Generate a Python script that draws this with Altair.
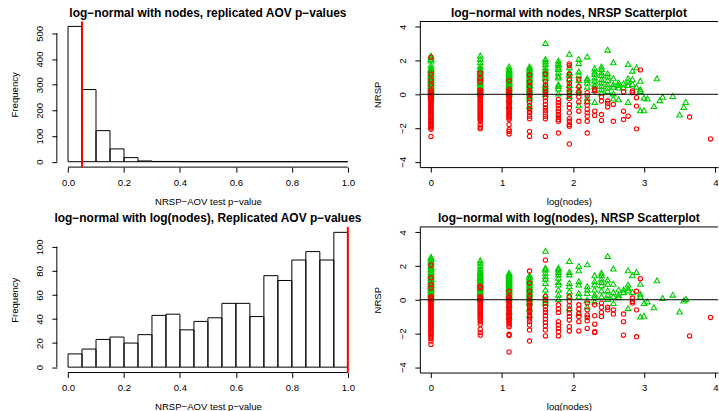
import altair as alt
import pandas as pd

FONT = "Liberation Sans"
GREEN = "#00CD00"
RED = "#FF0000"

# ---------------- histogram data ----------------
bin_edges = [0.0, 0.05, 0.1, 0.15, 0.2, 0.25, 0.3, 0.35, 0.4, 0.45, 0.5,
             0.55, 0.6, 0.65, 0.7, 0.75, 0.8, 0.85, 0.9, 0.95, 1.0]
top_counts = [527, 281, 121, 50, 16, 3, 1, 1, 0, 0, 0, 0, 0, 0, 0, 0, 0, 0, 0, 0]
bottom_counts = [11, 15, 23, 25, 20, 27, 43, 44, 31, 38, 41, 53, 53, 42, 76, 72, 89, 96, 89, 112]
hist_xticks = [0.0, 0.2, 0.4, 0.6, 0.8, 1.0]
top_yticks = [0, 100, 200, 300, 400, 500]
bottom_yticks = [0, 20, 40, 60, 80, 100]
top_cut = 0.05
bottom_cut = 1.0

# ---------------- scatter data (nodes -> NRSP values) ----------------
top_green = {
    1: [2.3, 2.2, 2.1, 2.0, 1.75, 1.6, 1.5, 1.45, 1.38, 1.3, 1.25, 1.18, 1.1, 1.05, 0.98, 0.9, 0.85,
        0.78, 0.7, 0.65, 0.58, 0.5, 0.45, 0.38, 0.3, 0.25, 0.18, 0.1, 0.05, -0.05, -0.2],
    2: [2.3, 2.1, 1.9, 1.7, 1.55, 1.48, 1.4, 1.32, 1.25, 1.18, 1.1, 1.02, 0.95, 0.88, 0.8, 0.72,
        0.65, 0.58, 0.5, 0.42, 0.35, 0.28, 0.2, 0.12, 0.05],
    3: [1.65, 1.5, 1.42, 1.35, 1.27, 1.2, 1.12, 1.05, 0.97, 0.9, 0.82, 0.75, 0.67, 0.6, 0.52, 0.45,
        0.37, 0.3, 0.22, 0.15, 0.07, 0.0, -0.3, -0.7],
    4: [1.65, 1.55, 1.45, 1.35, 1.25, 1.15, 1.05, 0.95, 0.85, 0.75, 0.65, 0.55, 0.45, 0.35, 0.25,
        0.15, 0.05, -0.1, -0.25, -0.7],
    5: [3.05, 2.1, 1.95, 1.8, 1.6, 1.45, 1.35, 1.2, 1.05, 0.95, 0.6, 0.45, 0.3, 0.0],
    6: [2.0, 1.85, 1.75, 1.6, 1.5, 1.3, 1.1, 1.0, 0.6, 0.5, 0.35, 0.05],
    7: [2.4, 1.6, 1.3, 1.15, 0.95, 0.55, 0.35, 0.1, -0.1],
    8: [2.1, 1.85, 1.35, 1.15, 0.85, 0.55, 0.25, 0.1, -0.65],
    9: [2.25, 0.95, 0.85, 0.7, 0.45, -0.2, -0.4],
    10: [1.55, 1.35, 1.2, 1.0, 0.8, 0.6, 0.5, 0.25, -0.45],
    11: [1.65, 1.5, 1.3, 1.15, 0.9, 0.7, 0.5, 0.3, 0.1],
    12: [2.65, 1.25, 1.05, 0.85, 0.6, 0.4, 0.2],
    13: [1.9, 0.95, 0.6, 0.45, 0.05, -0.25],
    14: [0.7, 0.55, 0.4, -0.3],
    15: [0.65, 0.4],
    16: [1.8, 0.95, 0.75, 0.55, -0.45],
    17: [1.4, 0.9, 0.6],
    18: [1.6, 0.45],
    19: [0.8, 0.3, 0.2, -0.95],
    20: [-0.2, -0.95],
    21: [-0.25],
    23: [-0.7],
    24: [0.95],
    25: [-0.35],
    26: [-0.15],
    30: [-0.1],
    33: [-1.2],
    35: [-0.75],
    36: [-0.45],
}
top_red = {
    1: [2.2, 1.2, 0.85, 0.55, 0.25, 0.15, 0.08, 0.02, -0.05, -0.1, -0.16, -0.22, -0.28, -0.35, -0.42,
        -0.48, -0.55, -0.62, -0.7, -0.76, -0.83, -0.9, -0.97, -1.04, -1.1, -1.17, -1.25, -1.32, -1.4,
        -1.48, -1.55, -1.62, -1.7, -1.78, -1.85, -1.92, -2.0, -2.08, -2.5],
    2: [1.25, 0.95, 0.75, 0.25, 0.18, 0.1, 0.02, -0.06, -0.14, -0.22, -0.3, -0.38, -0.46, -0.54,
        -0.62, -0.7, -0.78, -0.86, -0.94, -1.02, -1.1, -1.18, -1.26, -1.34, -1.42, -1.5, -1.6, -1.8,
        -1.95, -2.05],
    3: [0.8, 0.3, 0.2, 0.12, 0.04, -0.04, -0.12, -0.2, -0.28, -0.36, -0.44, -0.52, -0.6, -0.68,
        -0.76, -0.84, -0.92, -1.0, -1.08, -1.16, -1.24, -1.32, -1.4, -1.5, -1.8, -2.1, -2.2, -2.35],
    4: [1.15, 0.75, 0.45, 0.15, 0.05, -0.05, -0.25, -0.45, -0.65, -0.85, -1.0, -1.1, -1.3, -1.45,
        -2.2, -2.5],
    5: [1.2, 0.75, 0.55, 0.35, 0.15, 0.0, -0.2, -0.4, -0.6, -0.8, -0.95, -1.1, -1.3, -1.45, -2.5],
    6: [-0.3, -0.5, -0.65, -0.85, -1.0, -1.2, -1.35, -1.5, -1.6, -2.3],
    7: [1.8, 1.7, 1.2, 0.85, 0.65, 0.45, 0.15, -0.05, -0.25, -0.6, -0.8, -1.1, -1.45, -1.6, -1.8,
        -1.9, -2.95],
    8: [0.9, 0.45, 0.15, -0.15, -0.45, -1.0, -1.6],
    9: [0.1, -0.1, -0.45, -0.65, -0.9, -1.1, -1.3, -1.6, -2.3],
    10: [0.3, 0.2, -1.0, -1.25],
    11: [-0.15, -0.4, -1.2, -1.55],
    12: [-0.4, -0.55, -0.75],
    13: [-0.6, -1.6],
    15: [0.15, -1.0, -1.5],
    16: [-1.3],
    17: [0.2, 0.1],
    18: [-0.2, -0.7, -2.05],
    19: [1.45],
    38: [-1.35],
    51: [-2.65],
}
bottom_green = {
    1: [2.55, 2.45, 2.35, 2.25, 2.15, 2.02, 1.92, 1.82, 1.72, 1.62, 1.55, 1.48, 1.4, 1.32, 1.25,
        1.18, 1.1, 1.02, 0.95, 0.88, 0.8, 0.72, 0.65, 0.58, 0.5, 0.42, 0.35, 0.28, 0.2, 0.12, 0.05],
    2: [2.35, 2.2, 2.02, 1.85, 1.72, 1.62, 1.52, 1.42, 1.34, 1.26, 1.18, 1.1, 1.02, 0.94, 0.86,
        0.78, 0.7, 0.62, 0.54, 0.46, 0.38, 0.3, 0.22, 0.14, 0.06],
    3: [1.6, 1.5, 1.42, 1.34, 1.26, 1.18, 1.1, 1.02, 0.94, 0.86, 0.78, 0.7, 0.62, 0.54, 0.46, 0.38,
        0.3, 0.22, 0.14, 0.06, -0.3, -0.7, -1.0],
    4: [1.45, 1.35, 1.25, 1.15, 1.05, 0.95, 0.85, 0.75, 0.65, 0.55, 0.45, 0.35, 0.25, 0.15, 0.05,
        -0.1, -0.2, -0.5, -0.9],
    5: [2.9, 1.9, 1.8, 1.6, 1.4, 1.25, 1.0, 0.6, 0.3, 0.0, -0.2],
    6: [1.9, 1.8, 1.65, 1.5, 1.3, 1.05, 0.9, 0.6, 0.3, 0.05],
    7: [2.3, 1.65, 1.5, 1.0, 0.8, 0.5, 0.2, -0.5],
    8: [2.0, 1.75, 1.1, 0.9, 0.4, 0.2, -0.8],
    9: [2.1, 0.8, 0.6, 0.4, 0.0, -0.4],
    10: [1.45, 1.1, 0.9, 0.6, 0.3, 0.15, -0.1],
    11: [1.6, 1.45, 1.25, 1.05, 0.85, 0.55, 0.2],
    12: [2.6, 1.2, 0.95, 0.55, 0.3, 0.05],
    13: [1.85, 0.95, 0.45, 0.2, -0.2],
    14: [0.6, 0.3, 0.15],
    15: [0.6, 0.45],
    16: [1.75, 0.9, 0.7, 0.55, -0.5],
    17: [1.45, 0.45],
    18: [1.65],
    19: [0.95, 0.35, 0.2, -1.0],
    20: [-0.2, -0.95],
    21: [-0.1],
    23: [-0.45],
    24: [1.15],
    26: [0.1],
    30: [0.3],
    33: [-0.7],
    35: [-0.05],
    36: [0.05],
}
bottom_red = {
    1: [2.05, 1.3, 0.9, 0.7, 0.2, 0.12, 0.05, -0.02, -0.09, -0.16, -0.23, -0.3, -0.37, -0.44, -0.51,
        -0.58, -0.65, -0.72, -0.8, -0.87, -0.94, -1.01, -1.08, -1.15, -1.22, -1.3, -1.37, -1.44,
        -1.52, -1.6, -1.68, -1.76, -1.84, -1.92, -2.0, -2.1, -2.2, -2.3, -2.45, -2.65],
    2: [0.8, 0.7, 0.18, 0.1, 0.02, -0.06, -0.14, -0.22, -0.3, -0.38, -0.46, -0.54, -0.62, -0.7,
        -0.78, -0.86, -0.94, -1.02, -1.1, -1.2, -1.3, -1.45, -1.75, -1.95, -2.1],
    3: [0.5, 0.2, 0.12, 0.04, -0.04, -0.12, -0.2, -0.28, -0.36, -0.44, -0.52, -0.6, -0.68, -0.76,
        -0.84, -0.92, -1.0, -1.08, -1.16, -1.24, -1.32, -1.4, -1.5, -1.6, -2.05, -2.12, -3.1],
    4: [1.7, 1.0, 0.5, 0.2, 0.05, -0.1, -0.25, -0.4, -0.55, -0.7, -0.85, -1.0, -1.15, -1.3, -1.5,
        -1.8, -2.45],
    5: [2.35, 0.2, 0.0, -0.2, -0.4, -0.6, -0.75, -0.95, -1.15, -1.35, -1.55, -1.8, -2.15],
    6: [-0.3, -0.55, -0.75, -1.3, -1.5, -1.7, -1.9, -2.15],
    7: [0.2, -0.1, -0.35, -0.6, -0.8, -1.0, -1.2, -1.6, -1.85],
    8: [-0.3, -0.55, -0.8, -1.0, -1.3, -1.85],
    9: [-0.2, -0.6, -0.9, -1.05, -1.25, -1.7],
    10: [-0.3, -0.95, -1.45, -1.9, -1.95],
    11: [-0.2, -0.45, -0.75, -1.0],
    12: [-0.45, -0.6],
    13: [-0.6, -0.85],
    15: [-0.85, -1.3, -2.1],
    17: [0.1, -0.1, -0.2],
    18: [0.5, -0.6, -2.2],
    19: [1.25],
    38: [-2.15],
    51: [-1.05],
}
scatter_xticks = [0, 1, 2, 3, 4]
scatter_yticks = [-4, -2, 0, 2, 4]

titles = [
    "log\u2212normal with nodes, replicated AOV p\u2212values",
    "log\u2212normal with nodes, NRSP Scatterplot",
    "log\u2212normal with log(nodes), Replicated AOV p\u2212values",
    "log\u2212normal with log(nodes), NRSP Scatterplot",
]
hist_xlabel = "NRSP\u2212AOV test p\u2212value"
hist_ylabel = "Frequency"
sc_xlabel = "log(nodes)"
sc_ylabel = "NRSP"

LW, RW, H = 303, 299, 146


def xaxis(values, fmt, title, width, domain):
    return alt.Axis(values=values, format=fmt, title=title, domain=domain,
                    labelBaseline="middle", labelAlign="center", labelPadding=10,
                    titleX=width / 2, titleY=34, titleBaseline="middle", titleAlign="center",
                    labelFlush=False, labelOverlap=False)


def yaxis(values, title, domain):
    return alt.Axis(values=values, format="d", title=title, domain=domain,
                    labelAngle=270, labelAlign="center", labelBaseline="middle", labelPadding=12.5,
                    titleAngle=270, titleX=-42, titleY=H / 2, titleBaseline="middle",
                    titleAlign="center", labelFlush=False, labelOverlap=False)


def hist(counts, yticks, ydom, cut, title):
    df = pd.DataFrame({"lo": bin_edges[:-1], "hi": bin_edges[1:], "n": counts})
    one = pd.DataFrame({"k": [0]})
    xs = alt.Scale(domain=[-0.04, 1.04], nice=False, zero=False)
    ys = alt.Scale(domain=ydom, nice=False, zero=False)
    xa = xaxis(hist_xticks, ".1f", hist_xlabel, LW, False)
    ya = yaxis(yticks, hist_ylabel, False)

    def X(**kw):
        return alt.X(scale=xs, axis=xa, **kw)

    def Y(**kw):
        return alt.Y(scale=ys, axis=ya, **kw)

    bars = alt.Chart(df).mark_rect(fillOpacity=0, stroke="black", strokeWidth=1).encode(
        x=X(field="lo", type="quantitative"), x2="hi:Q",
        y=Y(field="n", type="quantitative"), y2=alt.datum(0),
    )
    xline = alt.Chart(one).mark_rule(color="black", strokeWidth=1).encode(
        x=X(datum=hist_xticks[0]), x2=alt.datum(hist_xticks[-1]), y=alt.value(H))
    yline = alt.Chart(one).mark_rule(color="black", strokeWidth=1).encode(
        y=Y(datum=yticks[0]), y2=alt.datum(yticks[-1]), x=alt.value(0))
    vline = alt.Chart(one).mark_rule(color=RED, strokeWidth=2).encode(x=X(datum=cut))
    return alt.layer(bars, xline, yline, vline).properties(
        width=LW, height=H, title=alt.Title(title))


def scatter(green, red, title):
    rows = []
    for grp, d in (("g", green), ("r", red)):
        for n, vals in d.items():
            for v in vals:
                rows.append({"nodes": n, "nrsp": v, "grp": grp})
    df = pd.DataFrame(rows)
    one = pd.DataFrame({"k": [0]})
    xs = alt.Scale(domain=[-0.157, 4.037], nice=False, zero=False)
    ys = alt.Scale(domain=[-4.32, 4.32], nice=False, zero=False)
    xa = xaxis(scatter_xticks, "d", sc_xlabel, RW, True)
    ya = yaxis(scatter_yticks, sc_ylabel, True)
    base = alt.Chart(df).transform_calculate(lx="log(datum.nodes)")
    enc = dict(
        x=alt.X("lx:Q", scale=xs, axis=xa),
        y=alt.Y("nrsp:Q", scale=ys, axis=ya),
    )
    g = base.transform_filter("datum.grp == 'g'").mark_point(
        shape="triangle-up", filled=False, color=GREEN, size=32, strokeWidth=1.1, opacity=1
    ).encode(**enc)
    r = base.transform_filter("datum.grp == 'r'").mark_point(
        shape="circle", filled=False, color=RED, size=19, strokeWidth=1.1, opacity=1
    ).encode(**enc)
    zero = alt.Chart(one).mark_rule(color="black", strokeWidth=1).encode(
        y=alt.Y(datum=0, scale=ys, axis=ya))
    top = alt.Chart(one).mark_rule(color="black", strokeWidth=1).encode(y=alt.value(0))
    return alt.layer(g, r, zero, top).properties(width=RW, height=H, title=alt.Title(title))


tl = hist(top_counts, top_yticks, [-21, 546], top_cut, titles[0])
tr = scatter(top_green, top_red, titles[1])
bl = hist(bottom_counts, bottom_yticks, [-4.48, 116.48], bottom_cut, titles[2])
br = scatter(bottom_green, bottom_red, titles[3])

chart = alt.concat(
    tl, tr, bl, br, columns=2, spacing={"row": 60, "column": 61}, bounds="flush"
).properties(
    padding={"left": 9, "top": 5, "right": 0, "bottom": 0}, background="white"
).configure_view(
    stroke="transparent"
).configure_axis(
    labelFont=FONT, titleFont=FONT, labelFontSize=9.6, titleFontSize=9.6,
    labelColor="black", titleColor="black", titleFontWeight="normal",
    domainColor="black", tickColor="black", domainWidth=1, tickWidth=1,
    tickSize=5, grid=False,
).configure_title(
    font=FONT, fontSize=12, fontWeight="bold", color="black", anchor="middle",
    frame="group", baseline="alphabetic", offset=1,
)

chart.save("out.html", embed_options={"renderer": "svg", "actions": False})
